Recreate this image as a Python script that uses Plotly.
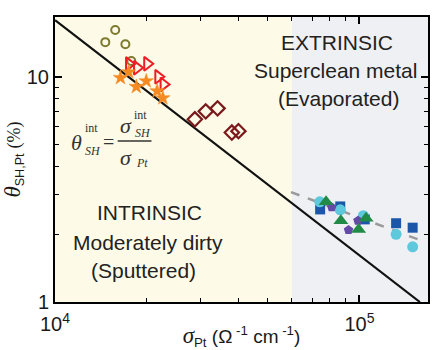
import plotly.graph_objects as go
import math

# ---------------- data ----------------
olive_x = [1.577e4, 1.463e4, 1.703e4, 1.781e4]
olive_y = [16.2, 14.3, 14.0, 11.8]

red_x = [1.751e4, 1.860e4, 2.009e4, 2.185e4, 2.274e4]
red_y = [11.43, 11.0, 11.46, 10.03, 9.28]

star_x = [1.641e4, 1.746e4, 1.850e4, 1.994e4, 2.165e4, 2.261e4]
star_y = [9.93, 10.52, 9.06, 9.60, 8.67, 8.07]

dia_x = [2.88e4, 3.127e4, 3.42e4, 3.81e4, 4.005e4]
dia_y = [6.49, 7.04, 7.26, 5.67, 5.75]

cyan_x = [7.41e4, 8.65e4, 1.030e5, 1.32e5, 1.496e5]
cyan_y = [2.79, 2.57, 2.42, 2.00, 1.76]

sq_x = [7.43e4, 8.65e4, 1.041e5, 1.32e5, 1.496e5]
sq_y = [2.58, 2.66, 2.33, 2.24, 2.14]

tri_x = [7.77e4, 8.69e4, 9.94e4, 1.052e5]
tri_y = [2.79, 2.30, 2.10, 2.36]

pent_x = [8.11e4, 9.89e4, 9.21e4]
pent_y = [2.64, 2.30, 2.09]

intr_line_x = [1.0e4, 1.58e5]
intr_line_y = [17.9, 1.0]

extr_line_x = [5.96e4, 1.64e5]
extr_line_y = [3.08, 1.85]

region_x = [1.0e4, 6.0e4, 1.68e5]   # intrinsic from..to, extrinsic to

x_range = [1.0e4, 1.68e5]
y_range = [1.0, 18.5]
x_tickvals = [1e4, 1e5]
x_ticktext = ["10<sup>4</sup>", "10<sup>5</sup>"]
y_tickvals = [1, 10]
y_ticktext = ["1", "10"]
x_minor = [2e4, 3e4, 4e4, 5e4, 6e4, 7e4, 8e4, 9e4]
y_minor = [2, 3, 4, 5, 6, 7, 8, 9]

# ---------------- figure ----------------
fig = go.Figure()

fig.add_shape(type="rect", xref="x", yref="paper", x0=region_x[0], x1=region_x[1],
              y0=0, y1=1, fillcolor="#fdfbe8", line_width=0, layer="below")
fig.add_shape(type="rect", xref="x", yref="paper", x0=region_x[1], x1=region_x[2],
              y0=0, y1=1, fillcolor="#eff0f4", line_width=0, layer="below")

fig.add_trace(go.Scatter(x=intr_line_x, y=intr_line_y, mode="lines",
                         line=dict(color="#111111", width=2.2)))
fig.add_trace(go.Scatter(x=extr_line_x, y=extr_line_y, mode="lines",
                         line=dict(color="#9a9a9a", width=2.5, dash="dash")))

fig.add_trace(go.Scatter(x=olive_x, y=olive_y, mode="markers",
                         marker=dict(symbol="circle-open", size=8, color="#7d7a2e",
                                     line=dict(width=2, color="#7d7a2e"))))
fig.add_trace(go.Scatter(x=red_x, y=red_y, mode="markers",
                         marker=dict(symbol="triangle-right-open", size=12, color="#ee1c25",
                                     line=dict(width=2, color="#ee1c25"))))
fig.add_trace(go.Scatter(x=star_x, y=star_y, mode="markers",
                         marker=dict(symbol="star", size=11, color="#f58a22",
                                     line=dict(width=0.5, color="#f58a22"))))
fig.add_trace(go.Scatter(x=dia_x, y=dia_y, mode="markers",
                         marker=dict(symbol="diamond-open", size=11, color="#7a1a1c",
                                     line=dict(width=2.2, color="#7a1a1c"))))
fig.add_trace(go.Scatter(x=sq_x, y=sq_y, mode="markers",
                         marker=dict(symbol="square", size=10, color="#1b56a8", line_width=0)))
fig.add_trace(go.Scatter(x=cyan_x, y=cyan_y, mode="markers",
                         marker=dict(symbol="circle", size=11, color="#5ec9dc", line_width=0)))
fig.add_trace(go.Scatter(x=pent_x, y=pent_y, mode="markers",
                         marker=dict(symbol="pentagon", size=10, color="#6449a6", line_width=0)))
fig.add_trace(go.Scatter(x=tri_x, y=tri_y, mode="markers",
                         marker=dict(symbol="triangle-up", size=13, color="#228a47", line_width=0)))

axis_common = dict(showline=True, linecolor="black", linewidth=2, mirror="ticks",
                   ticks="inside", ticklen=7, tickwidth=1.5, tickcolor="black",
                   showgrid=False, zeroline=False,
                   tickfont=dict(family="Liberation Sans, Arial", size=20, color="#1a1a1a"))

serif = "Liberation Serif, Times New Roman"

fig.update_xaxes(type="log", range=[math.log10(x_range[0]), math.log10(x_range[1])],
                 tickmode="array", tickvals=x_tickvals, ticktext=x_ticktext,
                 ticklabelstandoff=3,
                 minor=dict(tickmode="array", tickvals=x_minor, ticks="inside",
                            ticklen=4, tickwidth=1.2, tickcolor="black", showgrid=False),
                 title=dict(text=f"<span style='font-family:{serif};font-size:23px'><i>σ</i></span>"
                                 "<sub>Pt</sub> (Ω<sup> -1</sup> cm<sup> -1</sup>)",
                            font=dict(family="Liberation Sans, Arial", size=19, color="#1a1a1a"),
                            standoff=0),
                 **axis_common)
fig.update_yaxes(type="log", range=[math.log10(y_range[0]), math.log10(y_range[1])],
                 tickmode="array", tickvals=y_tickvals, ticktext=y_ticktext,
                 minor=dict(tickmode="array", tickvals=y_minor, ticks="inside",
                            ticklen=4, tickwidth=1.2, tickcolor="black", showgrid=False),
                 title=dict(text=f"<span style='font-family:{serif};font-size:23px'><i>θ</i></span>"
                                 "<sub>SH,Pt</sub> "
                                 f"<span style='font-family:{serif}'>(%)</span>",
                            font=dict(family="Liberation Sans, Arial", size=18, color="#1a1a1a"),
                            standoff=4),
                 **axis_common)

L, R, T, B = 55, 2, 17, 48
W, H = 432, 350
pw, ph = W - L - R, H - T - B


def px(x):
    return (x - L) / pw


def py(y):
    return (H - B - y) / ph


ann_font = dict(family="Liberation Sans, Arial", size=21, color="#222")
texts = [
    ("EXTRINSIC", 339, 43), ("Superclean metal", 337, 70), ("(Evaporated)", 340, 98),
    ("INTRINSIC", 150, 213), ("Moderately dirty", 148, 242), ("(Sputtered)", 144, 270),
]
for t, x, y in texts:
    fig.add_annotation(text=t, x=px(x), y=py(y), xref="paper", yref="paper",
                       showarrow=False, font=ann_font, xanchor="center", yanchor="middle")

formula = [
    ("<i>θ</i>", 77, 142, 22), ("int", 92, 128, 12), ("<i>SH</i>", 93, 151, 12),
    ("=", 109, 142, 20),
    ("<i>σ</i>", 126, 126, 22), ("int", 141, 115, 12), ("<i>SH</i>", 143, 133, 12),
    ("<i>σ</i>", 126, 157, 22), ("<i>Pt</i>", 142, 163, 12),
]
for t, x, y, s in formula:
    fig.add_annotation(text=t, x=px(x), y=py(y), xref="paper", yref="paper",
                       showarrow=False, font=dict(family=serif, size=s, color="#333"),
                       xanchor="center", yanchor="middle")
fig.add_shape(type="line", xref="paper", yref="paper", x0=px(118), x1=px(152),
              y0=py(141), y1=py(141), line=dict(color="#333", width=1.3))

fig.update_layout(width=W, height=H, margin=dict(l=L, r=R, t=T, b=B),
                  paper_bgcolor="white", plot_bgcolor="white", showlegend=False)

fig.write_html("out.html")
